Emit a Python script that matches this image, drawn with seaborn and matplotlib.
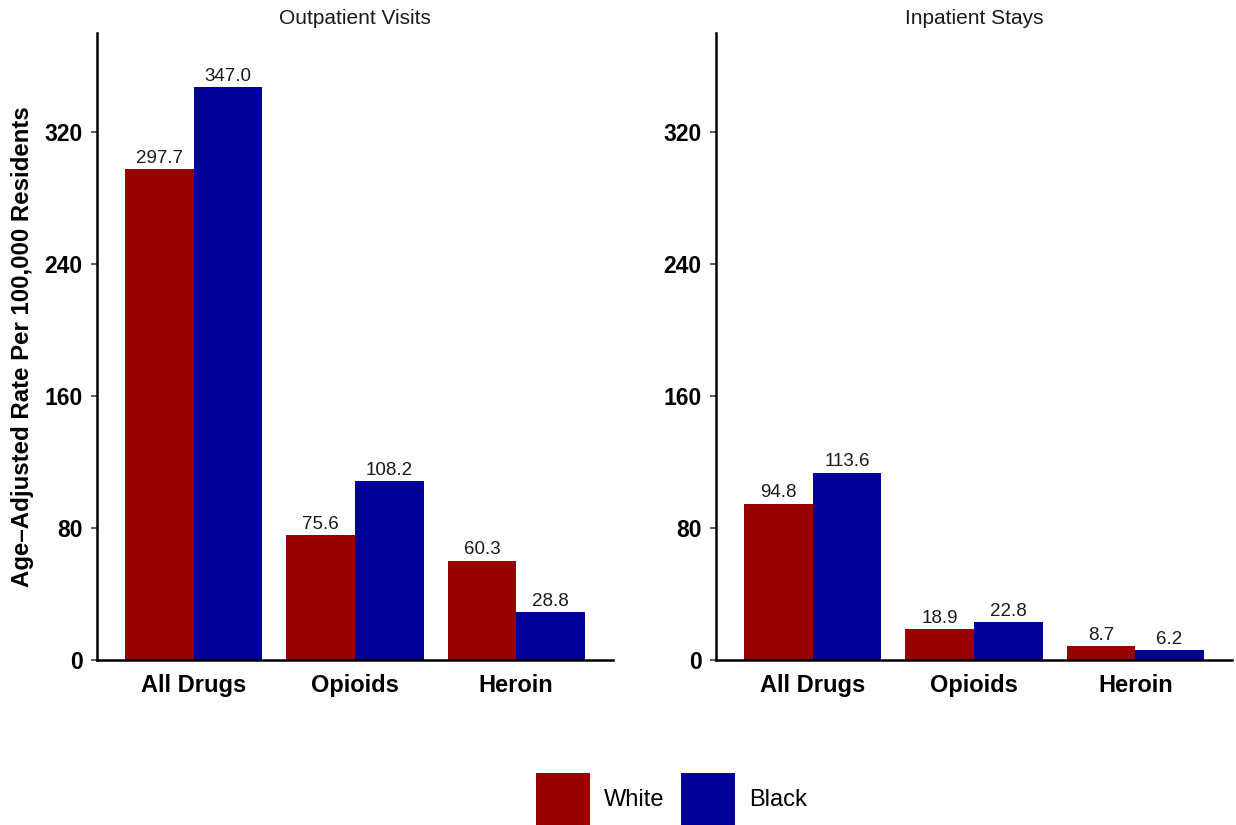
import matplotlib
matplotlib.use("Agg")
import matplotlib.pyplot as plt
from matplotlib import font_manager as fm
from matplotlib.patches import Patch
import seaborn as sns
import pandas as pd

# ---- data ----
categories = ["All Drugs", "Opioids", "Heroin"]
races = ["White", "Black"]
outpatient_white = [297.7, 75.6, 60.3]
outpatient_black = [347.0, 108.2, 28.8]
inpatient_white = [94.8, 18.9, 8.7]
inpatient_black = [113.6, 22.8, 6.2]
panel_titles = ["Outpatient Visits", "Inpatient Stays"]
y_ticks = [0, 80, 160, 240, 320]
y_label = "Age\u2013Adjusted Rate Per 100,000 Residents"

colors = {"White": "#990000", "Black": "#000099"}

sns.set_theme(style="white")
fm.fontManager.ttflist = [f for f in fm.fontManager.ttflist
                          if "Narrow" not in f.name]
plt.rcParams["font.family"] = ["Liberation Sans", "DejaVu Sans"]


def make_df(white, black):
    rows = []
    for c, w, b in zip(categories, white, black):
        rows.append({"Drug": c, "Race": "White", "Rate": w})
        rows.append({"Drug": c, "Race": "Black", "Rate": b})
    return pd.DataFrame(rows)


panels = [make_df(outpatient_white, outpatient_black),
          make_df(inpatient_white, inpatient_black)]

W, H = 1236, 825
fig = plt.figure(figsize=(W / 100, H / 100), dpi=100)
axes_px = [(97, 33, 516, 627), (716, 33, 516, 627)]

for (x0, top, w, h), df, title in zip(axes_px, panels, panel_titles):
    ax = fig.add_axes([x0 / W, (H - top - h) / H, w / W, h / H])
    sns.barplot(data=df, x="Drug", y="Rate", hue="Race", order=categories,
                hue_order=races, palette=colors, width=0.85, saturation=1,
                errorbar=None, linewidth=0, legend=False, ax=ax)
    for cont in ax.containers:
        ax.bar_label(cont, fmt="{:.1f}", padding=1.5, fontsize=13.5,
                     color="#1a1a1a")
    ax.set_xlim(-0.6, 2.6)
    ax.set_ylim(0, 380)
    ax.set_yticks(y_ticks)
    ax.set_xlabel("")
    ax.set_ylabel("")
    for s in ["top", "right"]:
        ax.spines[s].set_visible(False)
    for s in ["left", "bottom"]:
        ax.spines[s].set_color("black")
        ax.spines[s].set_linewidth(1.8)
    ax.tick_params(axis="y", length=4.5, width=1.1, color="#333333",
                   pad=6, labelsize=16.5, left=True)
    ax.tick_params(axis="x", length=0, pad=10, labelsize=17)
    for lab in ax.get_xticklabels() + ax.get_yticklabels():
        lab.set_fontweight("bold")
        lab.set_color("black")
    ax.text(0.5, 1 + 15 / h, title, transform=ax.transAxes, ha="center",
            va="center", fontsize=15, color="#1a1a1a")
    ax.grid(False)

fig.text(23 / W, 1 - 346.5 / H, y_label, rotation=90, ha="center",
         va="center", fontsize=17.3, fontweight="bold", color="black")

handles = [Patch(facecolor=colors[r], edgecolor="none", label=r) for r in races]
fig.legend(handles=handles, loc="center", bbox_to_anchor=(671.5 / W, 1 - 799 / H),
           ncol=2, frameon=False, fontsize=17, handlelength=2.3,
           handleheight=2.95, handletextpad=0.6, columnspacing=0.7,
           borderpad=0, labelcolor="black")

fig.savefig("out.png", dpi=100)
